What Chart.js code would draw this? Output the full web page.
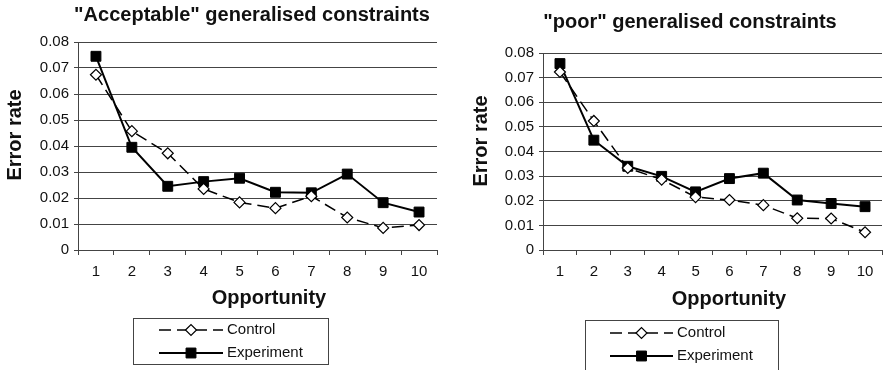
<!DOCTYPE html>
<html>
<head>
<meta charset="utf-8">
<script src="https://cdn.jsdelivr.net/npm/chart.js@4.4.1/dist/chart.umd.min.js"></script>
<style>
  html, body { margin: 0; padding: 0; background: #fff; overflow: hidden; }
  #wrap { position: relative; width: 887px; height: 370px; overflow: hidden; }
  .panel { position: absolute; top: 0; }
  #left { left: 0; width: 445px; height: 370px; }
  #right { left: 445px; width: 445px; height: 370px; }
</style>
</head>
<body>
<div id="wrap">
  <div class="panel" id="left"><canvas id="cLeft" width="445" height="370"></canvas></div>
  <div class="panel" id="right"><canvas id="cRight" width="445" height="370"></canvas></div>
</div>
<script>
// Opportunity number on the x axis
const opportunities = ['1', '2', '3', '4', '5', '6', '7', '8', '9', '10'];

// Error rates, "Acceptable" generalised constraints
const acceptableControl    = [0.0674, 0.0457, 0.0372, 0.0235, 0.0183, 0.0161, 0.0207, 0.0125, 0.0085, 0.0096];
const acceptableExperiment = [0.0745, 0.0395, 0.0245, 0.0263, 0.0276, 0.0222, 0.0220, 0.0292, 0.0182, 0.0146];

// Error rates, "poor" generalised constraints
const poorControl    = [0.0723, 0.0524, 0.0333, 0.0286, 0.0215, 0.0203, 0.0182, 0.0129, 0.0128, 0.0072];
const poorExperiment = [0.0757, 0.0446, 0.0340, 0.0299, 0.0236, 0.0290, 0.0312, 0.0203, 0.0189, 0.0176];

const seriesNames = ['Control', 'Experiment'];
const yTicks = [0, 0.01, 0.02, 0.03, 0.04, 0.05, 0.06, 0.07, 0.08];

const titleLeft = '"Acceptable" generalised constraints';
const titleRight = '"poor" generalised constraints';
const xTitleText = 'Opportunity';
const yTitleText = 'Error rate';

const FONT = '"Liberation Sans", Arial, Helvetica, sans-serif';
const GRID = '#444';

// Titles, axis captions and the boxed legend (line sample + marker + name)
const decorPlugin = {
  id: 'decor',
  afterDraw(chart, args, o) {
    const ctx = chart.ctx;
    ctx.save();
    ctx.fillStyle = '#111';
    ctx.textAlign = 'center';
    ctx.textBaseline = 'middle';
    ctx.font = 'bold 20px ' + FONT;
    ctx.fillText(o.title, o.titlePos[0], o.titlePos[1]);
    ctx.fillText(o.xTitle, o.xTitlePos[0], o.xTitlePos[1]);
    ctx.save();
    ctx.translate(o.yTitlePos[0], o.yTitlePos[1]);
    ctx.rotate(-Math.PI / 2);
    ctx.fillText(o.yTitle, 0, 0);
    ctx.restore();

    const L = o.legend;
    ctx.strokeStyle = '#444';
    ctx.lineWidth = 1;
    ctx.setLineDash([]);
    ctx.strokeRect(L.box[0] + 0.5, L.box[1] + 0.5, L.box[2] - L.box[0], L.box[3] - L.box[1]);

    chart.data.datasets.forEach((ds, i) => {
      const y = L.rows[i];
      ctx.strokeStyle = ds.borderColor;
      ctx.lineWidth = ds.borderWidth;
      ctx.setLineDash(ds.borderDash || []);
      ctx.beginPath();
      ctx.moveTo(L.line[0], y);
      ctx.lineTo(L.line[1], y);
      ctx.stroke();
      ctx.setLineDash([]);
      ctx.fillStyle = ds.pointBackgroundColor;
      ctx.strokeStyle = ds.pointBorderColor;
      ctx.lineWidth = ds.pointBorderWidth;
      Chart.helpers.drawPoint(ctx, {
        pointStyle: ds.pointStyle,
        radius: ds.pointRadius,
        borderWidth: ds.pointBorderWidth,
        rotation: 0
      }, (L.line[0] + L.line[1]) / 2, y);
      ctx.fillStyle = '#111';
      ctx.textAlign = 'left';
      ctx.font = '15px ' + FONT;
      ctx.fillText(ds.label, L.textX, y);
    });
    ctx.restore();
  }
};

function makeChart(canvasId, control, experiment, deco, area) {
  return new Chart(document.getElementById(canvasId), {
    type: 'line',
    data: {
      labels: opportunities,
      datasets: [
        {
          label: seriesNames[0],
          data: control,
          borderColor: '#000',
          borderWidth: 1.5,
          borderDash: [12, 6],
          pointStyle: 'rectRot',
          pointRadius: 5.5,
          pointBackgroundColor: '#fff',
          pointBorderColor: '#000',
          pointBorderWidth: 1.2,
          tension: 0
        },
        {
          label: seriesNames[1],
          data: experiment,
          borderColor: '#000',
          borderWidth: 2,
          pointStyle: 'rect',
          pointRadius: 7,
          pointBackgroundColor: '#000',
          pointBorderColor: '#000',
          pointBorderWidth: 1,
          tension: 0
        }
      ]
    },
    options: {
      responsive: false,
      animation: false,
      layout: { padding: { left: 0, top: area.top, right: area.right, bottom: 80 } },
      plugins: {
        legend: { display: false },
        title: { display: false },
        tooltip: { enabled: false },
        decor: deco
      },
      scales: {
        x: {
          type: 'category',
          offset: true,
          afterFit(scale) { scale.height = area.bottomGap - 80; },
          border: { display: true, color: GRID, width: 1 },
          grid: {
            offset: true,
            drawOnChartArea: false,
            drawTicks: true,
            tickLength: 5,
            color: GRID
          },
          ticks: {
            color: '#111',
            font: { family: FONT, size: 15 },
            padding: 8,
            maxRotation: 0,
            autoSkip: false
          }
        },
        y: {
          min: 0,
          max: 0.08,
          afterFit(scale) { scale.width = area.left; },
          afterBuildTicks(scale) { scale.ticks = yTicks.map(v => ({ value: v })); },
          border: { display: true, color: GRID, width: 1 },
          grid: {
            drawTicks: true,
            tickLength: 4,
            color: GRID,
            lineWidth: 1
          },
          ticks: {
            color: '#111',
            font: { family: FONT, size: 15 },
            padding: 5,
            callback: v => (v === 0 ? '0' : v.toFixed(2))
          }
        }
      }
    },
    plugins: [decorPlugin]
  });
}

makeChart('cLeft', acceptableControl, acceptableExperiment, {
  title: titleLeft, titlePos: [252, 15],
  xTitle: xTitleText, xTitlePos: [269, 298],
  yTitle: yTitleText, yTitlePos: [15, 135],
  legend: { box: [133, 318, 328, 364], rows: [330, 353], line: [159, 223], textX: 227 }
}, { left: 78, top: 42, right: 8, bottomGap: 120 });

makeChart('cRight', poorControl, poorExperiment, {
  title: titleRight, titlePos: [245, 22],
  xTitle: xTitleText, xTitlePos: [284, 299],
  yTitle: yTitleText, yTitlePos: [36, 141],
  legend: { box: [140, 320, 333, 376], rows: [333, 356], line: [165, 228], textX: 232 }
}, { left: 98, top: 53, right: 2, bottomGap: 120 });
</script>
</body>
</html>
